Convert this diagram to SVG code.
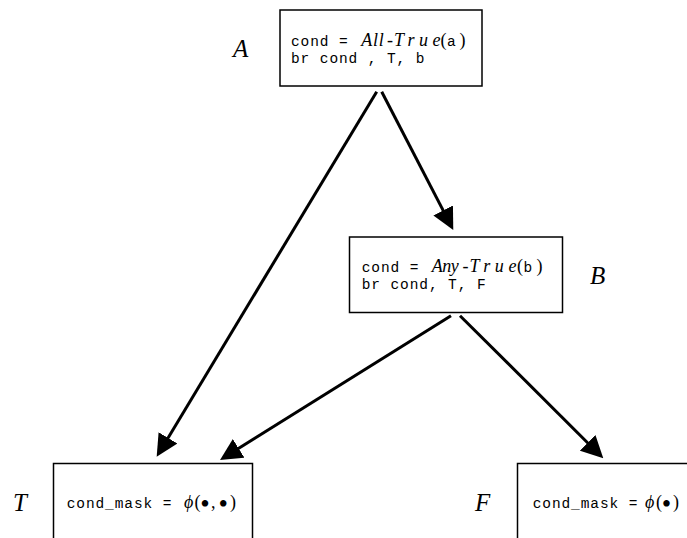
<svg xmlns="http://www.w3.org/2000/svg" width="687" height="538" viewBox="0 0 687 538">
  <defs>
    <style>
      .box { fill: #ffffff; stroke: #000000; stroke-width: 1.5; }
      .edge { fill: none; stroke: #000000; stroke-width: 3; }
      .label { font-family: "Liberation Serif", "DejaVu Serif", serif; font-style: italic; font-size: 25px; fill: #000000; }
      .tt { font-family: "Liberation Mono", "DejaVu Sans Mono", monospace; font-size: 14.5px; letter-spacing: 0.9px; fill: #000000; }
      .mi { font-family: "Liberation Serif", "DejaVu Serif", serif; font-style: italic; font-size: 18px; fill: #000000; }
      .rm { font-family: "Liberation Serif", "DejaVu Serif", serif; font-size: 18px; fill: #000000; }
      .dot { font-family: "Liberation Serif", "DejaVu Serif", serif; font-size: 27px; fill: #000000; text-anchor: middle; }
    </style>
    <marker id="arrowhead" markerUnits="userSpaceOnUse" markerWidth="22" markerHeight="22" viewBox="0 0 22 22" refX="14" refY="11" orient="auto">
      <path d="M0,0 L22,11 L0,22 Z" fill="#000000"/>
    </marker>
  </defs>

  <rect x="0" y="0" width="687" height="538" fill="#ffffff"/>

  <!-- control-flow edges -->
  <g id="edges">
    <line class="edge" x1="381.7" y1="91.7" x2="449.6" y2="222.9" marker-end="url(#arrowhead)"/>
    <line class="edge" x1="376.7" y1="91.7" x2="160.8" y2="449.9" marker-end="url(#arrowhead)"/>
    <line class="edge" x1="451" y1="315.7" x2="226.8" y2="455.8" marker-end="url(#arrowhead)"/>
    <line class="edge" x1="460" y1="315.7" x2="597.6" y2="452.7" marker-end="url(#arrowhead)"/>
  </g>

  <!-- block A -->
  <g id="node-A">
    <rect class="box" x="280" y="10" width="202" height="76"/>
    <text class="label" x="233" y="57">A</text>
    <text class="tt" x="291" y="46">cond =</text>
    <text class="mi" x="361.3" y="46" textLength="22.5" lengthAdjust="spacing">All</text>
    <text class="mi" x="387" y="46">-</text>
    <text class="mi" x="394" y="46" textLength="46.5" lengthAdjust="spacing">True</text>
    <text class="rm" x="440.5" y="46">(</text>
    <text class="tt" x="447" y="46">a</text>
    <text class="rm" x="459.5" y="46">)</text>
    <text class="tt" x="291" y="63.3">br cond , T, b</text>
  </g>

  <!-- block B -->
  <g id="node-B">
    <rect class="box" x="349.5" y="237" width="213" height="75.5"/>
    <text class="label" x="590" y="284">B</text>
    <text class="tt" x="361.7" y="271.5">cond =</text>
    <text class="mi" x="431.7" y="271.5" textLength="27" lengthAdjust="spacing">Any</text>
    <text class="mi" x="462.5" y="271.5">-</text>
    <text class="mi" x="469.5" y="271.5" textLength="47" lengthAdjust="spacing">True</text>
    <text class="rm" x="517" y="271.5">(</text>
    <text class="tt" x="523.5" y="271.5">b</text>
    <text class="rm" x="536.5" y="271.5">)</text>
    <text class="tt" x="361.7" y="288.5">br cond, T, F</text>
  </g>

  <!-- block T -->
  <g id="node-T">
    <rect class="box" x="53.5" y="463.5" width="199" height="100"/>
    <text class="label" x="13" y="511">T</text>
    <text class="tt" x="66.7" y="508.3">cond_mask =</text>
    <text class="mi" x="184" y="508.3">ϕ</text>
    <text class="rm" x="194.5" y="508.3">(</text>
    <text class="dot" x="205" y="513">•</text>
    <text class="rm" x="211" y="508.3">,</text>
    <text class="dot" x="223.3" y="513">•</text>
    <text class="rm" x="230" y="508.3">)</text>
  </g>

  <!-- block F -->
  <g id="node-F">
    <rect class="box" x="517.5" y="463.5" width="200" height="100"/>
    <text class="label" x="475" y="511">F</text>
    <text class="tt" x="532.7" y="508.3">cond_mask =</text>
    <text class="mi" x="645" y="508.3">ϕ</text>
    <text class="rm" x="656" y="508.3">(</text>
    <text class="dot" x="666.5" y="513">•</text>
    <text class="rm" x="673" y="508.3">)</text>
  </g>
</svg>
